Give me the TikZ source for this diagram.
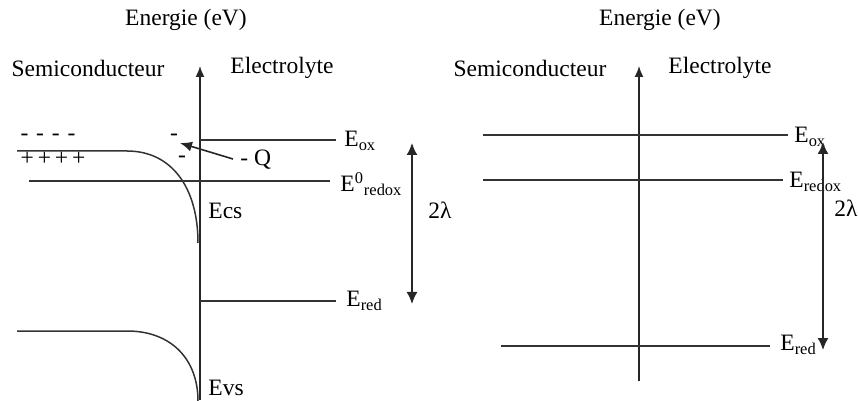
\documentclass[tikz,border=0pt]{standalone}
\usepackage{fontspec}
\setmainfont{Liberation Serif}
\usetikzlibrary{arrows.meta}
\begin{document}
\begin{tikzpicture}[x=0.5pt,y=-0.5pt,
  lvl/.style={line width=0.75pt,draw=black!80},
  ax/.style={line width=0.8pt,draw=black!85,-{Latex[length=5.5pt,width=4.5pt]}},
  dbl/.style={line width=0.8pt,draw=black!85,{Latex[length=6pt,width=5.5pt]}-{Latex[length=6pt,width=5.5pt]}},
  txt/.style={inner sep=0pt,font=\fontsize{11.75}{14}\selectfont},
  lbl/.style={txt,anchor=west}]
\useasboundingbox (0,0) rectangle (858,401);
% ---------- left diagram ----------
\node[txt] (en1) at (186,20) {Energie (eV)};
\node[txt] (sc1) at (88,68) {Semiconducteur};
\node[txt] (el1) at (282,68) {Electrolyte};
\coordinate (a1b) at (200,400);
\coordinate (a1t) at (200,66);
\draw[ax] (a1b) -- (a1t);
% bands
\coordinate (cb0) at (17,151);
\coordinate (cb1) at (127,151);
\coordinate (cb2) at (198,243);
\draw[lvl] (cb0) -- (cb1) .. controls (172,151) and (198,188) .. (cb2);
\coordinate (vb0) at (17,331);
\coordinate (vb1) at (127,331);
\coordinate (vb2) at (198,401);
\draw[lvl] (vb0) -- (vb1) .. controls (172,331) and (198,360) .. (vb2);
% levels
\coordinate (ox0) at (200,140); \coordinate (ox1) at (336,140);
\draw[lvl] (ox0) -- (ox1);
\node[lbl] (Eox1) at (344,141) {E\textsubscript{ox}};
\coordinate (rd0) at (29,181); \coordinate (rd1) at (330,181);
\draw[lvl] (rd0) -- (rd1);
\node[lbl] (Erdx1) at (340,184) {E\textsuperscript{0}\textsubscript{redox}};
\coordinate (re0) at (200,301); \coordinate (re1) at (336,301);
\draw[lvl] (re0) -- (re1);
\node[lbl] (Ered1) at (346,301) {E\textsubscript{red}};
% charges
\node[txt] (mm) at (48,137) {-\,\,-\,\,-\,\,-};
\node[txt] (pp) at (53,159) {+\,+\,+\,+};
\node[txt] (m1) at (174,137) {-};
\node[txt] (m2) at (182,159) {-};
\node[lbl] (Q) at (240,160) {- Q};
\draw[line width=0.8pt,draw=black!85,-{Latex[length=6pt,width=5pt]}] (Q.west) ++(-7,-1) coordinate (qs) -- (180,143) coordinate (qe);
\node[lbl] (Ecs) at (208,211) {Ecs};
\node[lbl] (Evs) at (208,388) {Evs};
% 2 lambda
\coordinate (l1t) at (412,143); \coordinate (l1b) at (412,304);
\draw[dbl] (l1b) -- (l1t);
\node[lbl] (lam1) at (428,210) {2λ};
% ---------- right diagram ----------
\node[txt] (en2) at (660,20) {Energie (eV)};
\node[txt] (sc2) at (530,68) {Semiconducteur};
\node[txt] (el2) at (720,68) {Electrolyte};
\coordinate (a2b) at (639,381);
\coordinate (a2t) at (639,66);
\draw[ax] (a2b) -- (a2t);
\coordinate (rox0) at (483,135); \coordinate (rox1) at (788,135);
\draw[lvl] (rox0) -- (rox1);
\node[lbl] (Eox2) at (794,137) {E\textsubscript{ox}};
\coordinate (rrd0) at (483,180); \coordinate (rrd1) at (783,180);
\draw[lvl] (rrd0) -- (rrd1);
\node[lbl] (Erdx2) at (789,182) {E\textsubscript{redox}};
\coordinate (rre0) at (501,346); \coordinate (rre1) at (770,346);
\draw[lvl] (rre0) -- (rre1);
\node[lbl] (Ered2) at (780,345) {E\textsubscript{red}};
\coordinate (l2t) at (823,142); \coordinate (l2b) at (823,350);
\draw[dbl] (l2b) -- (l2t);
\node[lbl] (lam2) at (834,208) {2λ};
\end{tikzpicture}
\end{document}
